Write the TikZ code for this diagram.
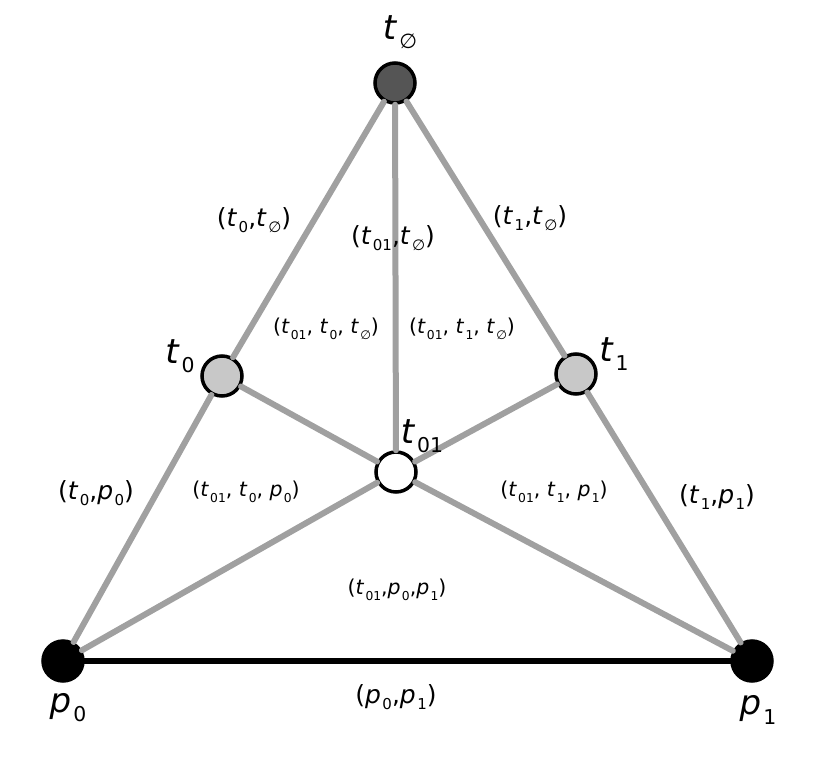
\documentclass[tikz,border=0pt]{standalone}
\usepackage{fontspec}
\setmainfont{DejaVu Sans}
\usepackage{graphicx}
\usepackage{xcolor}
\usepackage{tikz}
\definecolor{edgegray}{RGB}{160,160,160}
\definecolor{topgray}{RGB}{85,85,85}
\definecolor{midgray}{RGB}{200,200,200}
% italic letter with a small, lowered upright subscript
\newcommand{\vx}[2]{\textit{#1}\kern0.06em\raisebox{-0.27em}{\scalebox{0.6}{#2}}}
\newcommand{\es}{∅}

\begin{document}
\begin{tikzpicture}[x=1pt,y=-1pt,line cap=round]
\tikzstyle{vert}=[circle,draw=black,line width=3.5pt,minimum size=40pt,inner sep=0pt]
\tikzstyle{edge}=[draw=edgegray,line width=6pt]
\tikzstyle{big}=[font=\fontsize{34}{38}\selectfont]
\tikzstyle{mid}=[font=\fontsize{25}{29}\selectfont]
\tikzstyle{small}=[font=\fontsize{20.5}{24}\selectfont]
\useasboundingbox (0,0) rectangle (827,768);
% vertices
\node[vert,fill=topgray] (te) at (395,83) {};
\node[vert,fill=midgray] (t0) at (222,376) {};
\node[vert,fill=midgray] (t1) at (576,374) {};
\node[vert,fill=white] (t01) at (396,472) {};
\node[vert,fill=black] (p0) at (63,661) {};
\node[vert,fill=black] (p1) at (752,661) {};
% edges
\draw[edge] (te) -- (t0);
\draw[edge] (t0) -- (p0);
\draw[edge] (te) -- (t1);
\draw[edge] (t1) -- (p1);
\draw[edge] (te) -- (t01);
\draw[edge] (t0) -- (t01);
\draw[edge] (t1) -- (t01);
\draw[edge] (p0) -- (t01);
\draw[edge] (p1) -- (t01);
\draw[line width=6pt] (p0) -- (p1);
% vertex labels
\node[big] (lte) at (400,32) {\vx{t}{\es}};
\node[big] (lt0) at (180,356) {\vx{t}{0}};
\node[big] (lt1) at (614,354) {\vx{t}{1}};
\node[big] (lt01) at (422,436) {\vx{t}{01}};
\node[big] (lp0) at (68,708) {\vx{p}{0}};
\node[big] (lp1) at (758,710) {\vx{p}{1}};
% edge labels
\node[mid] (e0e) at (254,220) {(\vx{t}{0},\vx{t}{\es})};
\node[mid] (e01e) at (393,238) {(\vx{t}{01},\vx{t}{\es})};
\node[mid] (e1e) at (530,218) {(\vx{t}{1},\vx{t}{\es})};
\node[mid] (e0p) at (96,493) {(\vx{t}{0},\vx{p}{0})};
\node[mid] (e1p) at (717,497) {(\vx{t}{1},\vx{p}{1})};
\node[mid] (epp) at (396,697) {(\vx{p}{0},\vx{p}{1})};
% face labels
\node[small] (f0e) at (326,329) {(\vx{t}{01}, \vx{t}{0}, \vx{t}{\es})};
\node[small] (f1e) at (462,329) {(\vx{t}{01}, \vx{t}{1}, \vx{t}{\es})};
\node[small] (f0p) at (246,492) {(\vx{t}{01}, \vx{t}{0}, \vx{p}{0})};
\node[small] (f1p) at (554,492) {(\vx{t}{01}, \vx{t}{1}, \vx{p}{1})};
\node[small] (fpp) at (397,590) {(\vx{t}{01},\vx{p}{0},\vx{p}{1})};
\end{tikzpicture}
\end{document}
